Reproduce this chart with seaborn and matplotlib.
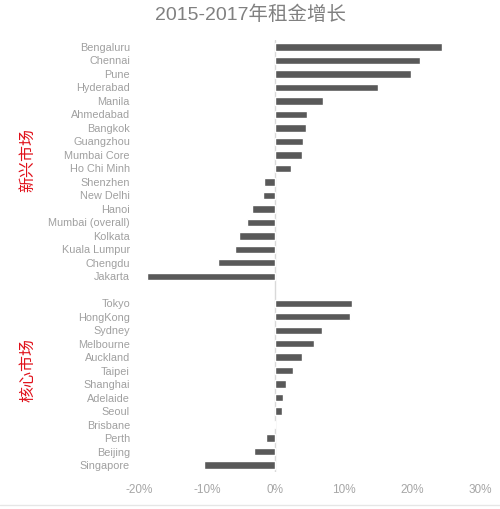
import numpy as np
import pandas as pd
import seaborn as sns
import matplotlib.pyplot as plt
from matplotlib.lines import Line2D
from matplotlib.ticker import PercentFormatter

sns.set_style("white")
plt.rcParams['font.family'] = ['Liberation Sans', 'Noto Sans CJK SC', 'DejaVu Sans']
plt.rcParams['axes.unicode_minus'] = False

# -----------------------------
# DATA: rent growth 2015-2017
# -----------------------------
emerging_cities = ["Bengaluru", "Chennai", "Pune", "Hyderabad", "Manila", "Ahmedabad",
                   "Bangkok", "Guangzhou", "Mumbai Core", "Ho Chi Minh", "Shenzhen",
                   "New Delhi", "Hanoi", "Mumbai (overall)", "Kolkata", "Kuala Lumpur",
                   "Chengdu", "Jakarta"]
emerging_growth = [0.244, 0.212, 0.199, 0.150, 0.070, 0.046, 0.045, 0.040, 0.039, 0.023,
                   -0.016, -0.018, -0.034, -0.042, -0.054, -0.059, -0.084, -0.188]

core_cities = ["Tokyo", "HongKong", "Sydney", "Melbourne", "Auckland", "Taipei", "Shanghai",
               "Adelaide", "Seoul", "Brisbane", "Perth", "Beijing", "Singapore"]
core_growth = [0.112, 0.109, 0.069, 0.057, 0.039, 0.026, 0.015, 0.011, 0.009, -0.002,
               -0.014, -0.031, -0.104]

group_labels = ["新兴市场", "核心市场"]
x_ticks = [-0.2, -0.1, 0.0, 0.1, 0.2, 0.3]

df = pd.DataFrame({
    "city": emerging_cities + core_cities,
    "growth": emerging_growth + core_growth,
})
order = emerging_cities + [" "] + core_cities

# -----------------------------
# PLOT
# -----------------------------
fig = plt.figure(figsize=(5, 5.09), dpi=100)
ax = fig.add_axes([0.278, 0.073, 0.682, 0.848])

sns.barplot(data=df, y="city", x="growth", order=order, color="#595959",
            saturation=1, width=0.55, ax=ax)

ax.axvline(0, color="#d9d9d9", lw=1, zorder=0)
ax.set_xlim(-0.2, 0.3)
ax.set_xticks(x_ticks)
ax.xaxis.set_major_formatter(PercentFormatter(1.0, decimals=0))
ax.set_xlabel("")
ax.set_ylabel("")
sns.despine(ax=ax, left=True, bottom=True)
ax.tick_params(axis="y", length=0, pad=6.5, labelsize=7.8, labelcolor="#a0a0a0")
ax.tick_params(axis="x", length=0, pad=9, labelsize=8.5, labelcolor="#a6a6a6")

fig.suptitle("2015-2017年租金增长", y=0.99, fontsize=14, color="#808080")

# group labels on the left
fig.text(0.056, 1 - 160 / 509, group_labels[0], rotation=90, color="#e0101a",
         fontsize=11.5, ha="center", va="center")
fig.text(0.056, 1 - 370 / 509, group_labels[1], rotation=90, color="#e0101a",
         fontsize=11.5, ha="center", va="center")

# thin line at the bottom
fig.add_artist(Line2D([0, 1], [0.008, 0.008], color="#e6e6e6", lw=1,
                      transform=fig.transFigure))

plt.savefig("out.png", dpi=100)
